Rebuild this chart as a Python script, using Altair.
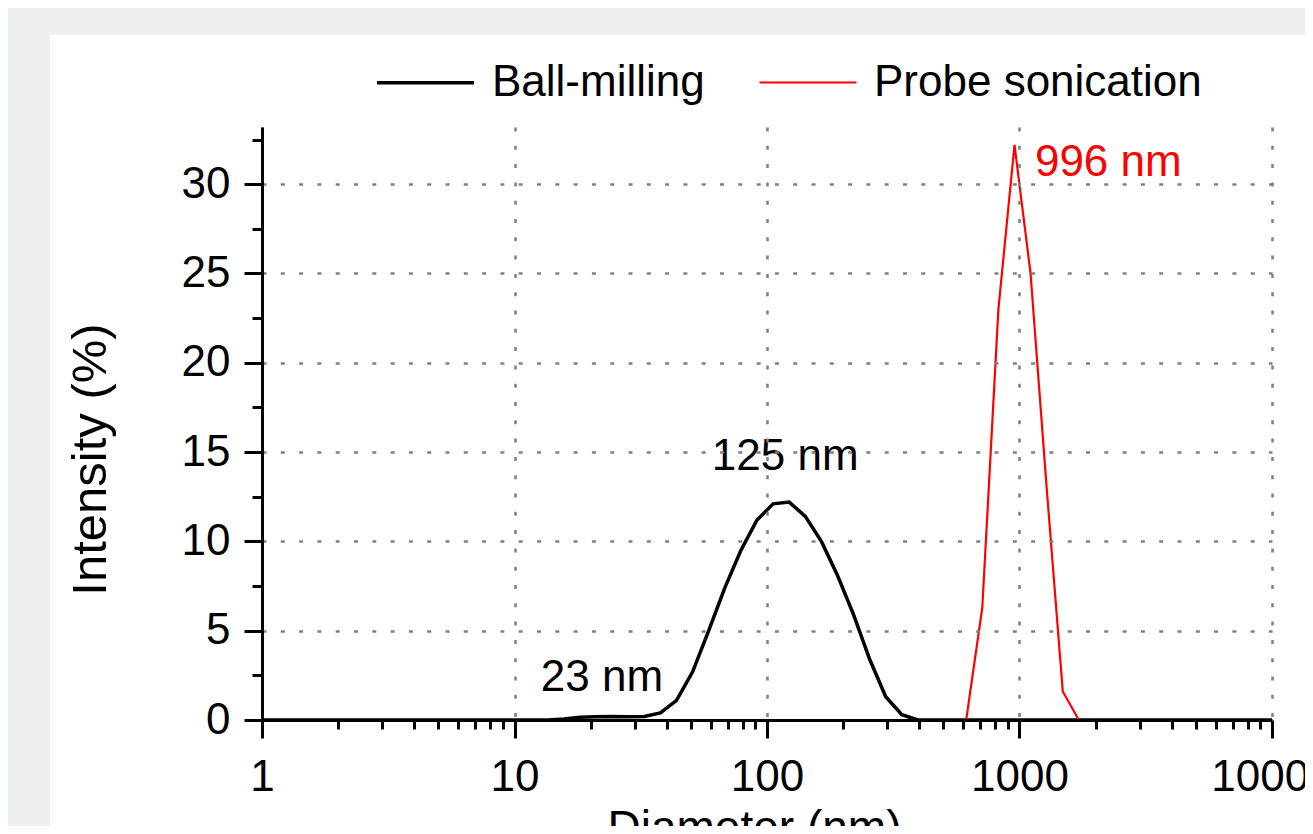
import altair as alt
import pandas as pd

# ---- data ----
diameter = [1, 13.54, 15.69, 18.17, 21.04, 24.36, 28.21, 32.67, 37.84, 43.82,
            50.75, 58.77, 68.06, 78.82, 91.28, 105.7, 122.4, 141.8, 164.2, 190.1,
            220.2, 255, 295.3, 342, 396.1, 458.7, 531.2, 615.1, 712.4, 825,
            955.4, 1106, 1281, 1484, 1718, 1990, 10000]
ball_milling = [0, 0, 0.05, 0.15, 0.18, 0.2, 0.18, 0.2, 0.4, 1.1,
                2.7, 5.0, 7.4, 9.5, 11.2, 12.1, 12.2, 11.4, 10.0, 8.1,
                5.9, 3.4, 1.3, 0.3, 0, 0, 0, 0, 0, 0,
                0, 0, 0, 0, 0, 0, 0]
probe_sonication = [0, 0, 0, 0, 0, 0, 0, 0, 0, 0,
                    0, 0, 0, 0, 0, 0, 0, 0, 0, 0,
                    0, 0, 0, 0, 0, 0, 0, 0, 6.3, 23,
                    32.2, 25, 13, 1.6, 0, 0, 0]
series_names = ["Ball-milling", "Probe sonication"]
series_colors = ["#000000", "#ff0000"]
series_widths = [3.5, 2.2]

x_ticks = [m * 10 ** e for e in range(4) for m in range(1, 10)] + [10000]
y_ticks = [i * 2.5 for i in range(14)]

ann_text = ["125 nm", "23 nm", "996 nm"]
ann_x = [118, 22.2, 1151]
ann_y = [14.7, 2.35, 31.2]
ann_color = ["#000000", "#000000", "#ff0000"]
ann_align = ["center", "center", "left"]

FONT = "Liberation Sans"

rows = []
for name, vals in zip(series_names, [ball_milling, probe_sonication]):
    for d, v in zip(diameter, vals):
        rows.append({"Diameter": d, "Intensity": v, "series": name})
df = pd.DataFrame(rows)

ann_df = pd.DataFrame({"text": ann_text, "x": ann_x, "y": ann_y,
                       "color": ann_color, "align": ann_align})

W, H = 1010, 593
PL, PT, PR, PB = 254, 119, 33, 106

x_scale = alt.Scale(type="log", domain=[1, 10000], nice=False)
y_scale = alt.Scale(domain=[0, 33.2], nice=False, zero=True)

x_test = "indexof([1,10,100,1000,10000], datum.value) >= 0"
y_test = "datum.value % 5 == 0"

x_axis = alt.Axis(
    values=x_ticks,
    labelExpr=f"{x_test} ? format(datum.value, 'd') : ''",
    tickSize={"condition": {"test": x_test, "value": 18}, "value": 9},
    gridOpacity={"condition": {"test": x_test, "value": 1}, "value": 0},
    grid=True, gridColor="#808080", gridDash=[4, 14.3], gridWidth=2.5,
    domainColor="black", domainWidth=3, tickColor="black", tickWidth=3,
    labelFont=FONT, labelFontSize=44, labelColor="black", labelPadding=17,
    labelFlush=False, labelOverlap=False, labelBaseline="top",
    title="Diameter (nm)", titleFont=FONT, titleFontSize=46, titleFontWeight="normal",
    titleColor="black", titleX=492, titleY=86, titleBaseline="top", titleAlign="center",
    zindex=1,
)
y_axis = alt.Axis(
    values=y_ticks,
    labelExpr=f"{y_test} ? format(datum.value, 'd') : ''",
    tickSize={"condition": {"test": y_test, "value": 18}, "value": 10},
    gridOpacity={"condition": {"test": y_test + " && datum.value > 0", "value": 1}, "value": 0},
    grid=True, gridColor="#808080", gridDash=[4, 14.3], gridWidth=2.5,
    domainColor="black", domainWidth=3, tickColor="black", tickWidth=3,
    labelFont=FONT, labelFontSize=44, labelColor="black", labelPadding=14,
    labelFlush=False, labelOverlap=False,
    title="Intensity (%)", titleFont=FONT, titleFontSize=49, titleFontWeight="normal",
    titleColor="black", titleX=-172, titleY=332, titleBaseline="middle", titleAlign="center",
    titleAngle=270,
    zindex=1,
)

legend = alt.Legend(
    title=None, orient="none", legendX=113, legendY=-95, direction="horizontal",
    symbolType="stroke", symbolSize=9409, labelFont=FONT, labelFontSize=44,
    labelColor="black", labelOffset=16, labelLimit=600, columnPadding=50, padding=0,
)

panel = alt.Chart(pd.DataFrame({"a": [0]})).mark_rect(color="white").encode(
    x=alt.value(-(PL - 42)), x2=alt.value(W + PR), y=alt.value(-(PT - 27)), y2=alt.value(H + PB)
)

lines = alt.Chart(df).mark_line(interpolate="linear").encode(
    x=alt.X("Diameter:Q", scale=x_scale, axis=x_axis),
    y=alt.Y("Intensity:Q", scale=y_scale, axis=y_axis),
    color=alt.Color("series:N", scale=alt.Scale(domain=series_names, range=series_colors), legend=legend),
    strokeWidth=alt.StrokeWidth("series:N", scale=alt.Scale(domain=series_names, range=series_widths), legend=legend),
)


def ann_layer(align):
    return alt.Chart(ann_df).transform_filter(
        alt.datum.align == align
    ).mark_text(font=FONT, fontSize=44, baseline="middle", align=align).encode(
        x=alt.X("x:Q", scale=x_scale),
        y=alt.Y("y:Q", scale=y_scale),
        text="text:N",
        color=alt.Color("color:N", scale=None),
    )


chart = alt.layer(panel, lines, ann_layer("center"), ann_layer("left")).properties(
    width=W, height=H,
    autosize=alt.AutoSizeParams(type="none"),
    padding={"left": PL, "top": PT, "right": PR, "bottom": PB},
).configure(background="#eef0ef").configure_view(stroke="transparent")

chart.save("out.html", embed_options={"renderer": "svg", "actions": False})
